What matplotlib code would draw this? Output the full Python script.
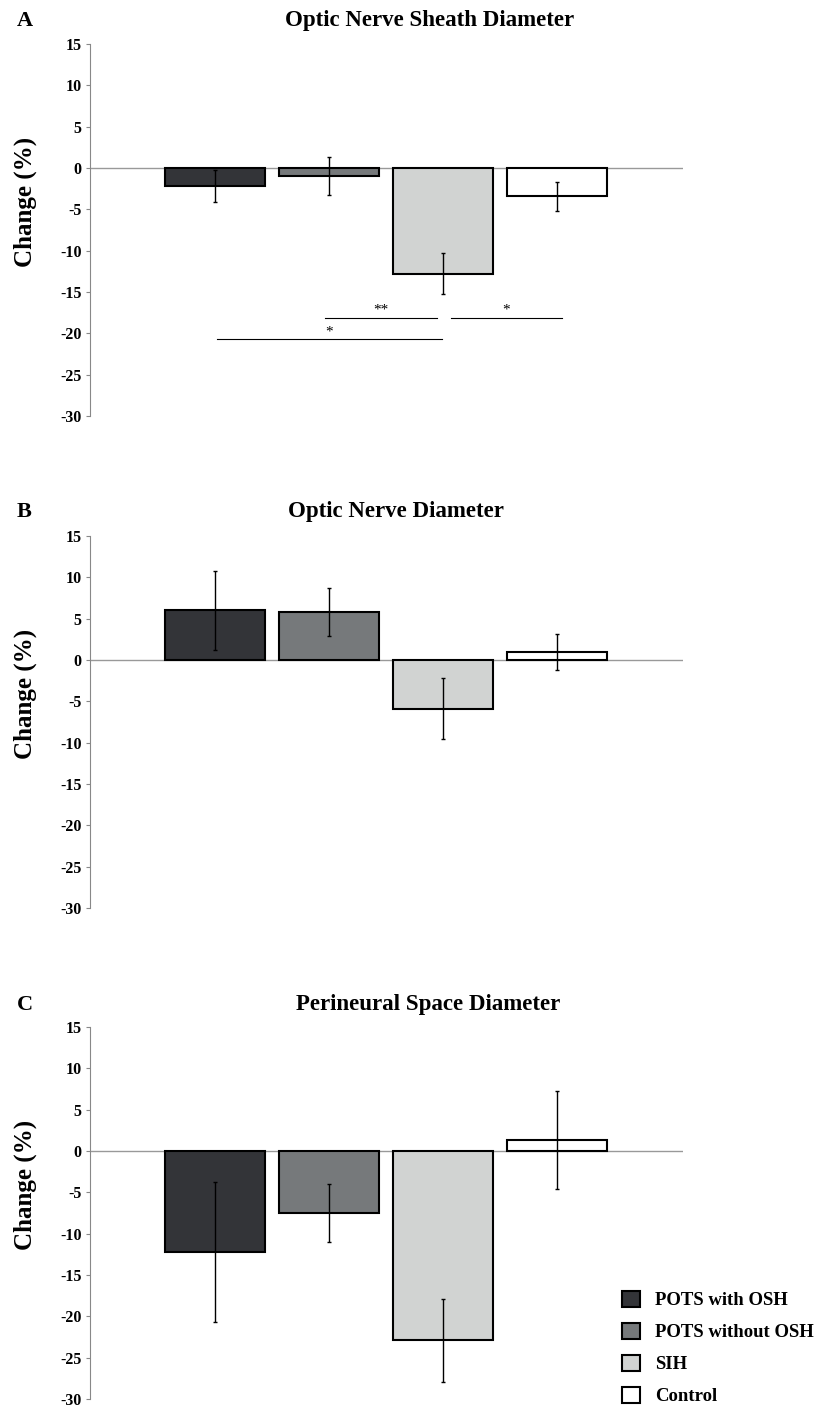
import numpy as np
import matplotlib
matplotlib.use('Agg')
import matplotlib.pyplot as plt
from matplotlib.patches import Patch

plt.rcParams['font.family'] = ['Liberation Serif', 'DejaVu Serif']
plt.rcParams['font.weight'] = 'bold'

groups = ['POTS with OSH', 'POTS without OSH', 'SIH', 'Control']
colors = ['#333438', '#76797b', '#d1d3d2', '#ffffff']

titles = ['Optic Nerve Sheath Diameter', 'Optic Nerve Diameter', 'Perineural Space Diameter']
letters = ['A', 'B', 'C']

# mean change (%) and error per group, one row per panel
means = [
    [-2.2, -1.0, -12.8, -3.4],
    [6.0, 5.8, -5.9, 1.0],
    [-12.2, -7.5, -22.9, 1.3],
]
errors = [
    [1.9, 2.3, 2.5, 1.75],
    [4.8, 2.9, 3.7, 2.2],
    [8.5, 3.45, 5.05, 5.95],
]

# significance brackets for panel A: (x start, x end, y, label)
sig_A = [
    (1.965, 2.947, -18.1, '**'),
    (3.07, 4.04, -18.1, '*'),
    (1.02, 2.99, -20.7, '*'),
]

yticks = np.arange(-30, 16, 5)

W, H = 819, 1407
fig = plt.figure(figsize=(W / 100, H / 100), dpi=100)

panel_tops = [44, 536, 1027]
title_x = [430, 396, 428]
title_base = [26, 517, 1010]
x = np.arange(1, 5)

for i in range(3):
    top = panel_tops[i]
    ax = fig.add_axes([90 / W, 1 - (top + 372) / H, 593 / W, 372 / H])
    ax.bar(x, means[i], width=0.877, color=colors, edgecolor='black', linewidth=1.5, zorder=2)
    ax.errorbar(x, means[i], yerr=errors[i], fmt='none', ecolor='black',
                elinewidth=1.0, capsize=1.6, capthick=1.0, zorder=3)
    ax.axhline(0, color='#999999', linewidth=1.0, zorder=1)
    ax.set_xlim(-0.096, 5.105)
    ax.set_ylim(-30, 15)
    ax.set_yticks(yticks)
    ax.set_yticklabels([str(t) for t in yticks], fontsize=11.5, fontweight='bold')
    ax.tick_params(axis='y', direction='out', length=3, color='#888888', pad=3)
    ax.set_xticks([])
    for s in ['top', 'right', 'bottom']:
        ax.spines[s].set_visible(False)
    ax.spines['left'].set_color('#888888')
    ax.set_ylabel('Change (%)', fontsize=18, fontweight='bold')
    ax.yaxis.set_label_coords(-0.089, 0.575)
    fig.text(title_x[i] / W, 1 - title_base[i] / H, titles[i], fontsize=16.5, fontweight='bold',
             ha='center', va='baseline')
    fig.text(17 / W, 1 - title_base[i] / H, letters[i], fontsize=16, fontweight='bold',
             va='baseline', ha='left')
    if i == 0:
        for x0, x1, y, lab in sig_A:
            ax.plot([x0, x1], [y, y], color='black', linewidth=0.8)
            ax.text((x0 + x1) / 2, y + 0.1, lab, ha='center', va='bottom',
                    fontsize=11, fontweight='normal')

handles = [Patch(facecolor=c, edgecolor='black', linewidth=1.5) for c in colors]
fig.legend(handles, groups, loc='center left', bbox_to_anchor=(605 / W, 1 - 1348 / H),
           frameon=False, fontsize=13.5, handlelength=0.95, handleheight=0.95,
           labelspacing=0.72, handletextpad=0.8)

fig.savefig('out.png', dpi=100)
